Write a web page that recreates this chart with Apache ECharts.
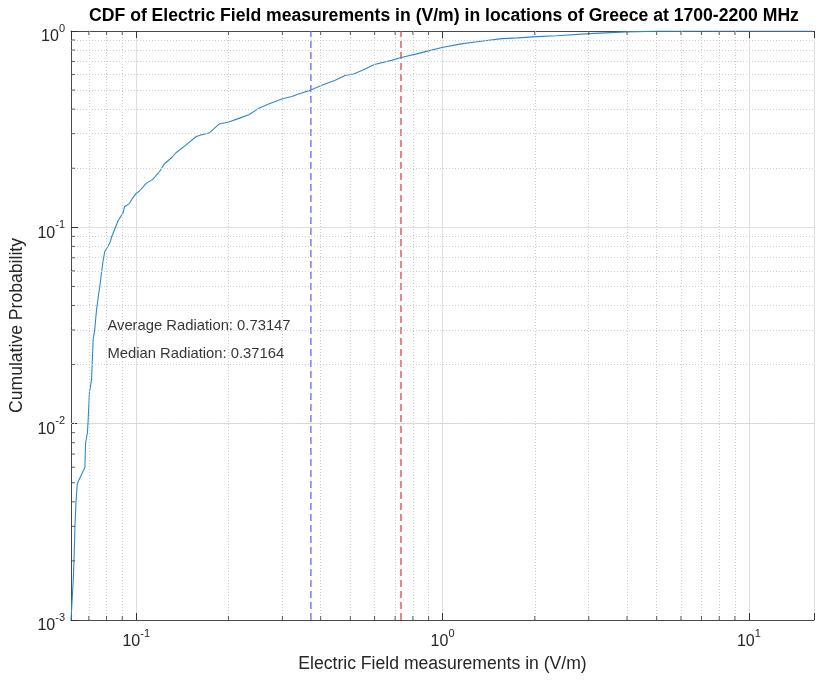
<!DOCTYPE html>
<html>
<head>
<meta charset="utf-8">
<script src="https://cdn.jsdelivr.net/npm/echarts@6/dist/echarts.min.js"></script>
<style>
  html, body { margin: 0; padding: 0; background: #ffffff; }
  #chart { width: 817px; height: 680px; }
</style>
</head>
<body>
<div id="chart"></div>
<script>
// Empirical CDF of measured electric field strength (V/m)
const fieldValues = [0.06124, 0.06229, 0.0626, 0.06308, 0.06356, 0.06418, 0.06465, 0.06798, 0.06833, 0.06926,
  0.06968, 0.0703, 0.07146, 0.07232, 0.07324, 0.07418, 0.07547, 0.07603, 0.077, 0.07792,
  0.07891, 0.0819, 0.08317, 0.0873, 0.09046, 0.09164, 0.09512, 0.09727, 0.1, 0.1025,
  0.1077, 0.1132, 0.119, 0.1235, 0.1314, 0.1348, 0.1452, 0.1565, 0.1625, 0.1729,
  0.1863, 0.2007, 0.2163, 0.2331, 0.2511, 0.2706, 0.2988, 0.3219, 0.3384, 0.3716,
  0.4049, 0.4461, 0.4807, 0.5122, 0.5499, 0.5991, 0.6808, 0.7329, 0.8167, 0.9067,
  0.9954, 1.139, 1.2945, 1.564, 1.762, 2.031, 2.358, 3.017, 3.977, 5.089, 6.71, 16.07];
const cumulativeProb = [0.001, 0.0016, 0.00195, 0.00299, 0.00395, 0.00493, 0.00507, 0.00598, 0.00797, 0.00897,
  0.01044, 0.01433, 0.0167, 0.02668, 0.03035, 0.03793, 0.04629, 0.04995, 0.05853, 0.06739,
  0.07512, 0.0829, 0.08956, 0.1083, 0.1178, 0.1273, 0.1325, 0.141, 0.149, 0.1531,
  0.1675, 0.1755, 0.1919, 0.2101, 0.2288, 0.2398, 0.2624, 0.2892, 0.2951, 0.3021,
  0.3357, 0.3437, 0.3589, 0.3744, 0.4036, 0.4243, 0.45, 0.4634, 0.4772, 0.5,
  0.5302, 0.561, 0.5929, 0.6034, 0.6324, 0.6745, 0.7085, 0.7321, 0.7627, 0.7947,
  0.8241, 0.8577, 0.8811, 0.9147, 0.9222, 0.9365, 0.9453, 0.97, 0.9895, 0.999, 0.9995, 1];

const averageRadiation = 0.73147;
const medianRadiation = 0.37164;

// axis limits
const xRange = [0.06124, 16.31];
const yRange = [0.001, 1];

// minor tick / minor grid positions (2..9 x 10^k)
const xMinorTicks = [0.07, 0.08, 0.09, 0.2, 0.3, 0.4, 0.5, 0.6, 0.7, 0.8, 0.9, 2, 3, 4, 5, 6, 7, 8, 9];
const yMinorTicks = [0.002, 0.003, 0.004, 0.005, 0.006, 0.007, 0.008, 0.009,
  0.02, 0.03, 0.04, 0.05, 0.06, 0.07, 0.08, 0.09,
  0.2, 0.3, 0.4, 0.5, 0.6, 0.7, 0.8, 0.9];

// text annotation anchors (data coordinates)
const annotationX = 0.0805;
const annotationY = [0.03145, 0.02265];

const FONT = '"Liberation Sans", Arial, Helvetica, sans-serif';
const AXIS_COLOR = '#4a4a4a';
const TICK_COLOR = '#333333';

function powerLabel(v) {
  const e = Math.log10(v);
  const r = Math.round(e);
  if (Math.abs(e - r) > 1e-6) return '';
  return '{b|10}{s|' + r + '}';
}
const labelRich = {
  b: { fontSize: 16, lineHeight: 22, verticalAlign: 'bottom', color: '#262626', fontFamily: FONT },
  s: { fontSize: 11, lineHeight: 11, verticalAlign: 'top', color: '#262626', fontFamily: FONT }
};

const curve = fieldValues.map((x, i) => [x, cumulativeProb[i]]);

const chart = echarts.init(document.getElementById('chart'), null, { renderer: 'canvas' });

chart.setOption({
  backgroundColor: '#ffffff',
  animation: false,
  title: {
    text: 'CDF of Electric Field measurements in (V/m) in locations of Greece at 1700-2200 MHz',
    left: 439,
    textAlign: 'center',
    top: 2,
    textStyle: { fontFamily: FONT, fontSize: 17.6, fontWeight: 'bold', color: '#000000' }
  },
  grid: { left: 71, right: -2, top: 31, bottom: 60, containLabel: false },
  xAxis: [{
    type: 'log',
    logBase: 10,
    min: xRange[0],
    max: xRange[1],
    position: 'bottom',
    name: 'Electric Field measurements in (V/m)',
    nameLocation: 'middle',
    nameGap: 32,
    nameTextStyle: { fontFamily: FONT, fontSize: 17.6, color: '#262626', verticalAlign: 'top' },
    axisLine: { show: true, onZero: false, lineStyle: { color: AXIS_COLOR, width: 1 } },
    axisTick: { show: true, inside: true, length: 7, lineStyle: { color: TICK_COLOR } },
    axisLabel: {
      show: true, margin: 8, formatter: powerLabel, rich: labelRich,
      showMinLabel: true, showMaxLabel: true
    },
    splitLine: { show: true, lineStyle: { color: '#dedede', width: 1 } },
    minorTick: { show: false },
    minorSplitLine: { show: false }
  }, {
    type: 'log',
    logBase: 10,
    min: xRange[0],
    max: xRange[1],
    position: 'top',
    axisLine: { show: true, onZero: false, lineStyle: { color: AXIS_COLOR, width: 1 } },
    axisTick: { show: true, inside: true, length: 7, lineStyle: { color: TICK_COLOR } },
    axisLabel: { show: false },
    splitLine: { show: false }
  }],
  yAxis: [{
    type: 'log',
    logBase: 10,
    min: yRange[0],
    max: yRange[1],
    name: 'Cumulative Probability',
    nameLocation: 'middle',
    nameGap: 45,
    nameTextStyle: { fontFamily: FONT, fontSize: 17.6, color: '#262626' },
    axisLine: { show: true, onZero: false, lineStyle: { color: AXIS_COLOR, width: 1 } },
    axisTick: { show: true, inside: true, length: 7, lineStyle: { color: TICK_COLOR } },
    axisLabel: {
      show: true, margin: 6, formatter: powerLabel, rich: labelRich,
      padding: [6, 0, 0, 0]
    },
    splitLine: { show: true, lineStyle: { color: '#dedede', width: 1 } }
  }],
  series: [
    {
      // dotted minor grid
      name: 'minorGrid',
      type: 'line',
      data: [],
      silent: true,
      z: 1,
      markLine: {
        silent: true,
        symbol: ['none', 'none'],
        label: { show: false },
        animation: false,
        lineStyle: { color: '#cdcdcd', width: 1, type: [1, 2] },
        emphasis: { disabled: true },
        data: xMinorTicks.map(v => ({ xAxis: v })).concat(yMinorTicks.map(v => ({ yAxis: v })))
      }
    },
    {
      // minor ticks, bottom edge
      type: 'scatter', silent: true, clip: false, z: 5,
      symbol: 'rect', symbolSize: [1, 4], symbolOffset: [0, -2],
      itemStyle: { color: TICK_COLOR },
      data: xMinorTicks.map(v => [v, yRange[0]])
    },
    {
      // minor ticks, top edge
      type: 'scatter', silent: true, clip: false, z: 5,
      symbol: 'rect', symbolSize: [1, 4], symbolOffset: [0, 2],
      itemStyle: { color: TICK_COLOR },
      data: xMinorTicks.map(v => [v, yRange[1]])
    },
    {
      // minor ticks, left edge
      type: 'scatter', silent: true, clip: false, z: 5,
      symbol: 'rect', symbolSize: [4, 1], symbolOffset: [2, 0],
      itemStyle: { color: TICK_COLOR },
      data: yMinorTicks.map(v => [xRange[0], v])
    },
    {
      name: 'Median',
      type: 'line',
      silent: true,
      z: 3,
      showSymbol: false,
      symbol: 'none',
      lineStyle: { color: '#6464ff', width: 1.3, type: [7, 4] },
      data: [[medianRadiation, yRange[0]], [medianRadiation, yRange[1]]]
    },
    {
      name: 'Average',
      type: 'line',
      silent: true,
      z: 3,
      showSymbol: false,
      symbol: 'none',
      lineStyle: { color: '#e04545', width: 1.3, type: [7, 4] },
      data: [[averageRadiation, yRange[0]], [averageRadiation, yRange[1]]]
    },
    {
      name: 'CDF',
      type: 'line',
      z: 4,
      showSymbol: false,
      symbol: 'none',
      smooth: false,
      clip: true,
      lineStyle: { color: '#2f88cc', width: 1.1 },
      data: curve
    },
    {
      // text annotations
      type: 'scatter',
      silent: true,
      z: 6,
      symbolSize: 0,
      itemStyle: { color: 'transparent' },
      label: {
        show: true,
        position: 'right',
        distance: 0,
        fontFamily: FONT,
        fontSize: 14.8,
        color: '#000000',
        formatter: p => p.data[2]
      },
      data: [
        [annotationX, annotationY[0], 'Average Radiation: ' + averageRadiation],
        [annotationX, annotationY[1], 'Median Radiation: ' + medianRadiation]
      ]
    }
  ]
});
</script>
</body>
</html>
